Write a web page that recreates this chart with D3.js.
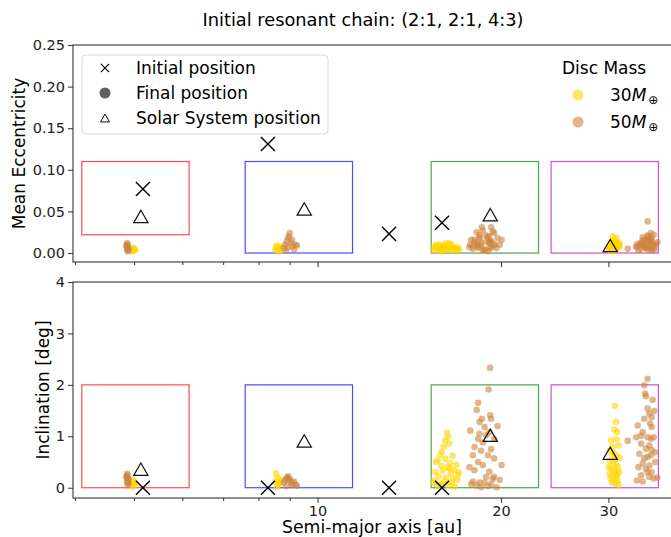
<!DOCTYPE html>
<html>
<head>
<meta charset="utf-8">
<script src="https://cdn.jsdelivr.net/npm/d3@7"></script>
<style>
  body { margin: 0; background: #fff; }
  svg { font-family: "DejaVu Sans", sans-serif; }
</style>
</head>
<body>
<script>
// planets: Jupiter, Saturn, Uranus, Neptune
const planetColors = ["#ff0000", "#0000ff", "#008000", "#bf00bf"];

// Solar System reference
const solarA = [5.13, 9.51, 19.2, 30.2];
const solarE = [0.044, 0.053, 0.046, 0.009];
const solarI = [0.36, 0.91, 1.02, 0.67];

// initial resonant chain
const initA = [5.17, 8.29, 13.1, 16.0];
const initE = [0.077, 0.131, 0.023, 0.0365];
const initI = [0.0, 0.0, 0.0, 0.0];

// target boxes (semi-major axis +/-20%)
const boxE = [[0.022, 0.11], [0, 0.11], [0, 0.11], [0, 0.11]];
const boxI = [0, 2];

// final positions [a, e, inc]  -- 30 Earth mass disc
const final30 = [
  // Jupiter
  [4.98,0.004,0.15],[5.00,0.003,0.10],[5.01,0.005,0.05],[4.97,0.002,0.02],[5.02,0.004,0.08],[4.99,0.006,0.12],
  // Saturn
  [8.55,0.008,0.28],[8.60,0.006,0.20],[8.52,0.004,0.12],[8.65,0.007,0.08],[8.58,0.003,0.03],[8.70,0.005,0.15],[8.62,0.009,0.05],[8.68,0.002,0.10],
  // Uranus
  [16.30,0.006,1.07],[16.38,0.004,0.99],[16.20,0.008,0.92],[16.45,0.005,0.86],[16.10,0.007,0.80],[16.00,0.003,0.70],
  [15.90,0.009,0.64],[15.75,0.006,0.54],[15.65,0.010,0.50],[16.20,0.004,0.56],[16.65,0.007,0.62],[16.90,0.005,0.45],
  [16.50,0.011,0.48],[15.95,0.002,0.42],[16.35,0.008,0.40],[16.75,0.006,0.35],[15.60,0.005,0.30],[16.05,0.009,0.33],
  [16.55,0.003,0.28],[17.00,0.007,0.25],[15.80,0.004,0.22],[16.25,0.012,0.20],[16.70,0.006,0.18],[15.55,0.008,0.14],
  [16.15,0.005,0.12],[16.60,0.009,0.10],[16.95,0.003,0.15],[15.70,0.007,0.06],[16.40,0.004,0.05],[15.85,0.010,0.03],
  [16.80,0.005,0.02],[16.00,0.006,0.08],[15.50,0.003,0.10],[16.45,0.011,0.38],[17.05,0.004,0.30],
  // Neptune
  [30.76,0.012,1.59],[30.88,0.010,1.28],[30.68,0.015,1.13],[30.99,0.008,1.08],[30.30,0.006,0.92],[30.96,0.018,0.94],
  [30.48,0.004,0.79],[31.17,0.011,0.82],[30.20,0.007,0.72],[30.60,0.013,0.68],[30.90,0.005,0.62],[31.30,0.009,0.58],
  [30.15,0.003,0.52],[30.55,0.016,0.48],[30.85,0.006,0.44],[31.10,0.010,0.40],[30.35,0.008,0.36],[30.70,0.004,0.33],
  [31.25,0.012,0.30],[30.10,0.005,0.27],[30.50,0.020,0.24],[30.95,0.007,0.21],[30.25,0.009,0.18],[30.65,0.003,0.15],
  [31.05,0.006,0.13],[30.40,0.011,0.10],[30.80,0.004,0.08],[31.20,0.008,0.06],[30.05,0.006,0.40],[30.75,0.014,0.55],
  [30.45,0.002,0.64],[31.00,0.009,0.26]
];

// final positions [a, e, inc]  -- 50 Earth mass disc
const final50 = [
  // Jupiter
  [4.87,0.012,0.27],[4.88,0.010,0.24],[4.86,0.008,0.20],[4.89,0.006,0.16],[4.87,0.004,0.12],
  [4.90,0.003,0.08],[4.88,0.005,0.05],[4.86,0.009,0.22],[4.89,0.007,0.18],[4.88,0.002,0.10],
  // Saturn
  [8.80,0.006,0.10],[8.85,0.010,0.15],[8.90,0.014,0.20],[8.95,0.018,0.22],[9.00,0.024,0.18],[9.05,0.012,0.08],
  [9.10,0.008,0.05],[9.15,0.004,0.12],[9.20,0.010,0.06],[8.88,0.003,0.03],[8.98,0.020,0.14],[9.08,0.016,0.10],
  [8.93,0.007,0.17],[9.25,0.009,0.04],
  // Uranus
  [19.19,0.012,2.33],[19.08,0.020,1.91],[18.34,0.008,1.65],[18.24,0.025,1.51],[19.19,0.015,1.41],[19.26,0.006,1.34],
  [18.60,0.031,1.34],[19.73,0.018,1.20],[17.80,0.010,1.11],[18.79,0.004,1.18],[18.44,0.022,1.05],[18.90,0.014,1.02],
  [18.34,0.006,0.95],[18.67,0.027,0.88],[19.48,0.009,0.95],[18.09,0.016,0.79],[18.55,0.012,0.72],[19.26,0.031,0.75],
  [17.98,0.005,0.63],[19.03,0.019,0.63],[20.04,0.016,0.44],[18.34,0.010,0.50],[18.67,0.003,0.44],[19.48,0.024,0.57],
  [18.09,0.013,0.34],[19.13,0.007,0.31],[18.90,0.021,0.21],[19.48,0.011,0.21],[17.98,0.008,0.12],[18.44,0.017,0.10],
  [18.79,0.004,0.10],[19.26,0.014,0.07],[19.66,0.006,0.01],[18.24,0.011,0.04],[19.03,0.002,0.03],[17.86,0.016,0.07],
  [18.55,0.009,0.01],[19.38,0.026,0.17],[19.13,0.013,1.08],[18.44,0.019,1.28],[17.75,0.007,0.40],[19.90,0.010,0.15],
  // Neptune
  [32.27,0.005,0.91],[34.79,0.012,2.12],[34.36,0.008,1.99],[34.45,0.016,1.83],[34.57,0.006,1.78],[35.46,0.010,1.71],
  [34.79,0.020,1.54],[35.68,0.004,1.49],[35.02,0.014,1.44],[34.36,0.009,1.34],[35.33,0.018,1.37],[35.12,0.007,1.25],
  [33.51,0.011,1.21],[34.14,0.015,1.08],[35.33,0.005,1.18],[35.59,0.022,0.98],[33.32,0.008,0.98],[34.79,0.038,0.98],
  [33.94,0.012,0.86],[35.02,0.017,0.82],[34.57,0.006,0.76],[35.33,0.013,0.73],[33.72,0.009,0.66],[35.23,0.024,0.63],
  [34.79,0.004,0.60],[35.80,0.011,0.50],[34.14,0.019,0.47],[35.02,0.007,0.43],[34.57,0.014,0.37],[35.33,0.003,0.30],
  [33.94,0.010,0.24],[35.02,0.016,0.21],[35.59,0.006,0.18],[34.14,0.012,0.12],[34.79,0.021,0.30],[34.36,0.008,0.57],
  [35.23,0.015,0.95],[33.94,0.005,1.01],[35.80,0.009,0.69],[33.60,0.003,0.40],[36.10,0.013,0.20],[33.40,0.007,0.14]
];

const xTicks = [10, 20, 30];
const xMinor = [4, 5, 6, 7, 8, 9, 40];
const eTicks = [0, 0.05, 0.10, 0.15, 0.20, 0.25];
const iTicks = [0, 1, 2, 3, 4];

const W = 671, H = 537;
const left = 73, right = 700;
const col30 = "#ffd700", col50 = "#cd853f";

const svg = d3.select("body").append("svg")
  .attr("width", W).attr("height", H)
  .attr("viewBox", [0, 0, W, H]);

const x = d3.scaleLog().domain([3.97, 42.4]).range([left, right]);
const yE = d3.scaleLinear().domain([-0.0108, 0.25]).range([262, 45]);
const yI = d3.scaleLinear().domain([-0.2, 4]).range([498, 282]);

svg.append("text")
  .attr("x", 363).attr("y", 26)
  .attr("text-anchor", "middle")
  .attr("font-size", 17.8)
  .text("Initial resonant chain: (2:1, 2:1, 4:3)");

const cross = d3.symbol().type(d3.symbolX);
const tri = d3.symbol().type(d3.symbolTriangle);
// d3 centres the triangle on its centroid, matplotlib on its bbox: shift down
const triShift = s => 0.5 * Math.sqrt(s / (Math.sqrt(3) * 3));

function panel(y, key, boxes, yTicks, fmt, label, labelX) {
  const g = svg.append("g");
  const [y0, y1] = y.range();

  // boxes
  g.selectAll("rect.box").data(solarA).join("rect")
    .attr("x", d => x(d * 0.8))
    .attr("width", d => x(d * 1.2) - x(d * 0.8))
    .attr("y", (d, i) => y(boxes(i)[1]))
    .attr("height", (d, i) => y(boxes(i)[0]) - y(boxes(i)[1]))
    .attr("fill", "none")
    .attr("stroke", (d, i) => planetColors[i])
    .attr("stroke-opacity", 0.7)
    .attr("stroke-width", 1.2);

  g.selectAll("circle.m30").data(final30).join("circle")
    .attr("cx", d => x(d[0])).attr("cy", d => y(d[key]))
    .attr("r", 3.3).attr("fill", col30).attr("fill-opacity", 0.6);
  g.selectAll("circle.m50").data(final50).join("circle")
    .attr("class", "m50")
    .attr("cx", d => x(d[0])).attr("cy", d => y(d[key]))
    .attr("r", 3.3).attr("fill", col50).attr("fill-opacity", 0.6);

  const ini = key === 1 ? initE : initI;
  g.selectAll("path.ini").data(initA).join("path")
    .attr("class", "ini")
    .attr("transform", (d, i) => `translate(${x(d)},${y(ini[i])})`)
    .attr("d", cross.size(130))
    .attr("fill", "none").attr("stroke", "black").attr("stroke-width", 1.4);

  const sol = key === 1 ? solarE : solarI;
  g.selectAll("path.sol").data(solarA).join("path")
    .attr("class", "sol")
    .attr("transform", (d, i) => `translate(${x(d)},${y(sol[i]) + triShift(88)})`)
    .attr("d", tri.size(88))
    .attr("fill", "none").attr("stroke", "#111").attr("stroke-width", 1.2);

  // axes
  const ax = svg.append("g").attr("transform", `translate(0,${y0})`);
  ax.call(d3.axisBottom(x).tickValues(xTicks).tickSize(5)
      .tickFormat(key === 2 ? d3.format("d") : ""));
  ax.append("g").call(d3.axisBottom(x).tickValues(xMinor).tickSize(3).tickFormat(""));
  ax.selectAll(".domain").remove();

  const ay = svg.append("g").attr("transform", `translate(${left},0)`)
    .call(d3.axisLeft(y).tickValues(yTicks).tickSize(5).tickFormat(fmt));
  ay.select(".domain").remove();

  [ax, ay].forEach(a => {
    a.selectAll("text").attr("font-size", 14.5).attr("fill", "#222")
      .attr("font-family", "DejaVu Sans, sans-serif");
    a.selectAll("line").attr("stroke", "#333");
  });

  svg.append("rect")
    .attr("x", left).attr("y", y1)
    .attr("width", right - left).attr("height", y0 - y1)
    .attr("fill", "none").attr("stroke", "#333").attr("stroke-width", 1.1);

  svg.append("text")
    .attr("transform", `translate(${labelX},${(y0 + y1) / 2}) rotate(-90)`)
    .attr("text-anchor", "middle").attr("dominant-baseline", "central")
    .attr("font-size", 17).text(label);
}

panel(yE, 1, i => boxE[i], eTicks, d3.format(".2f"), "Mean Eccentricity", 19);
panel(yI, 2, () => boxI, iTicks, d3.format("d"), "Inclination [deg]", 43);

svg.append("text")
  .attr("x", 372).attr("y", 532.8)
  .attr("text-anchor", "middle").attr("font-size", 17.3)
  .text("Semi-major axis [au]");

// marker legend
const lg = svg.append("g");
lg.append("rect").attr("x", 82).attr("y", 55).attr("width", 246).attr("height", 79)
  .attr("rx", 4).attr("fill", "white").attr("fill-opacity", 0.8)
  .attr("stroke", "#d8d8d8");
const legRows = ["Initial position", "Final position", "Solar System position"];
legRows.forEach((t, i) => {
  const cy = 68 + i * 25;
  if (i === 0) lg.append("path").attr("transform", `translate(105,${cy})`)
    .attr("d", cross.size(45)).attr("fill", "none").attr("stroke", "black").attr("stroke-width", 1.2);
  if (i === 1) lg.append("circle").attr("cx", 105).attr("cy", cy).attr("r", 5.5)
    .attr("fill", "#444").attr("fill-opacity", 0.85);
  if (i === 2) lg.append("path").attr("transform", `translate(105,${cy + triShift(36)})`)
    .attr("d", tri.size(36)).attr("fill", "none").attr("stroke", "#111").attr("stroke-width", 1);
  lg.append("text").attr("x", 136).attr("y", cy).attr("dominant-baseline", "central")
    .attr("font-size", 17).text(t);
});

// disc mass legend
const dm = svg.append("g");
dm.append("text").attr("x", 562).attr("y", 68).attr("dominant-baseline", "central")
  .attr("font-size", 17).text("Disc Mass");
[["30", col30], ["50", col50]].forEach(([m, c], i) => {
  const cy = 95 + i * 27;
  dm.append("circle").attr("cx", 578).attr("cy", cy).attr("r", 5.5)
    .attr("fill", c).attr("fill-opacity", 0.6);
  const t = dm.append("text").attr("x", 610).attr("y", cy).attr("dominant-baseline", "central")
    .attr("font-size", 17);
  t.append("tspan").text(m);
  t.append("tspan").attr("font-style", "italic").text("M");
  t.append("tspan").attr("font-size", 12).attr("dy", 5).attr("dx", 2).text("\u2295");
});
</script>
</body>
</html>
